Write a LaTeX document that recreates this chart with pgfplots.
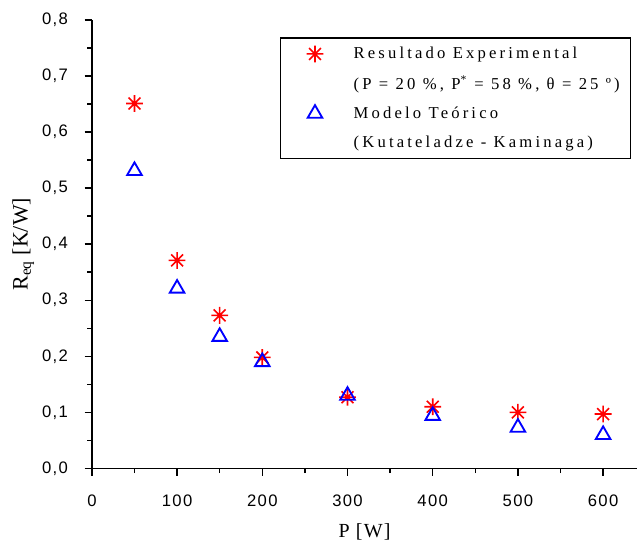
\documentclass[border=0pt]{standalone}
\usepackage{pgfplots}
\pgfplotsset{compat=1.18}
\usepackage{fontspec}
\setmainfont{Liberation Serif}
\newfontfamily\tickfont[LetterSpace=8]{Liberation Sans}
\newfontfamily\lsfont[LetterSpace=19]{Liberation Serif}
\newfontfamily\xlfont[LetterSpace=6]{Liberation Serif}

\pgfdeclareplotmark{star8}{%
  \pgfpathmoveto{\pgfqpoint{0pt}{\pgfplotmarksize}}\pgfpathlineto{\pgfqpoint{0pt}{-\pgfplotmarksize}}%
  \pgfpathmoveto{\pgfqpoint{\pgfplotmarksize}{0pt}}\pgfpathlineto{\pgfqpoint{-\pgfplotmarksize}{0pt}}%
  \pgfpathmoveto{\pgfqpoint{0.707\pgfplotmarksize}{0.707\pgfplotmarksize}}\pgfpathlineto{\pgfqpoint{-0.707\pgfplotmarksize}{-0.707\pgfplotmarksize}}%
  \pgfpathmoveto{\pgfqpoint{-0.707\pgfplotmarksize}{0.707\pgfplotmarksize}}\pgfpathlineto{\pgfqpoint{0.707\pgfplotmarksize}{-0.707\pgfplotmarksize}}%
  \pgfusepathqstroke}

\begin{document}
\begin{tikzpicture}
\begin{axis}[
    scale only axis,
    width=409.5pt, height=336.75pt,
    xmin=0, xmax=640, ymin=0, ymax=0.8,
    axis x line*=bottom, axis y line*=left,
    axis line style={-, line width=1.2pt},
    xtick={0,100,...,600},
    ytick={0,0.1,...,0.8},
    minor x tick num=1, minor y tick num=1,
    tick align=outside,
    major tick length=5.5pt, minor tick length=3.5pt,
    tick style={line width=1.1pt, black},
    ticklabel style={font=\tickfont\fontsize{12.5}{14}\selectfont},
    /pgf/number format/assume math mode=true,
    y tick label style={xshift=-9pt, /pgf/number format/.cd, use comma, fixed, fixed zerofill, precision=1},
    x tick label style={yshift=-11pt},
    xlabel={\xlfont P [W]},
    ylabel={R\textsubscript{eq} [K/W]},
    xlabel style={font=\fontsize{15}{17}\selectfont, yshift=-6pt},
    ylabel style={font=\fontsize{16.5}{18}\selectfont, yshift=-1pt},
    legend style={at={(0.989,0.962)}, anchor=north east, draw=black, line width=1.2pt,
      font=\lsfont\fontsize{12.5}{14}\selectfont, row sep=7.5pt, inner xsep=6pt, inner ysep=5pt},
    legend image code/.code={\path[draw=none] (-0.7cm,0) -- (0.95cm,0); \draw[#1] plot coordinates {(0cm,0cm)};},
    legend cell align=left,
    clip=false,
]
\addplot[only marks, red, mark=star8, mark size=6.3pt, line width=1.2pt]
  coordinates {(50,0.651) (100,0.371) (150,0.273) (200,0.198) (300,0.127) (400,0.110) (500,0.100) (600,0.097)};
\addlegendentry{Resultado Experimental}
\addlegendimage{empty legend}
\addlegendentry{(P = 20 \%, P\textsuperscript{*} = 58 \%, θ = 25 º)}
\addplot[only marks, blue, mark=triangle, mark size=6.3pt, line width=1.4pt]
  coordinates {(50,0.531) (100,0.321) (150,0.235) (200,0.190) (300,0.130) (400,0.094) (500,0.073) (600,0.060)};
\addlegendentry{Modelo Teórico}
\addlegendimage{empty legend}
\addlegendentry{(Kutateladze - Kaminaga)}
% page margins as in the reference
\path (rel axis cs:0,1) -- ++(-69pt,15pt);
\path (rel axis cs:0,0) -- ++(0pt,-54.75pt);
\end{axis}
\end{tikzpicture}
\end{document}
